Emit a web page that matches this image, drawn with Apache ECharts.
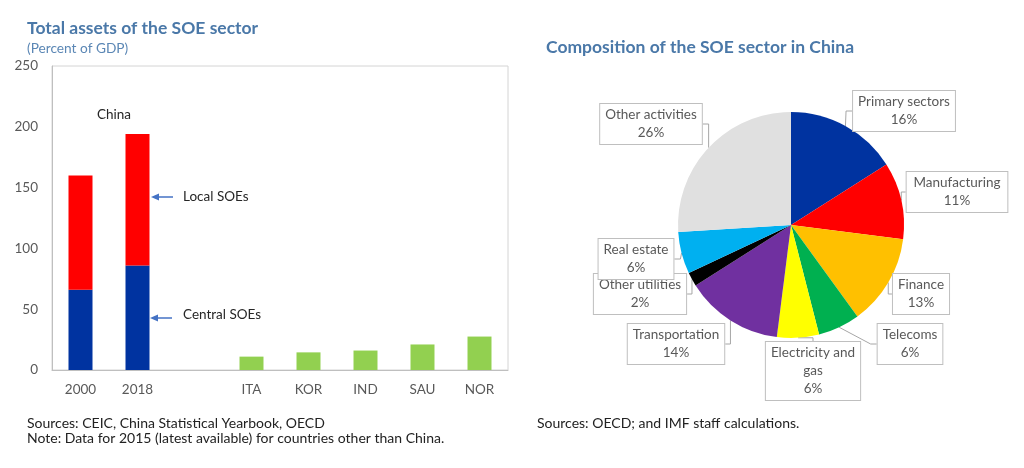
<!DOCTYPE html>
<html>
<head>
<meta charset="utf-8">
<script src="https://cdn.jsdelivr.net/npm/echarts@6/dist/echarts.min.js"></script>
<style>
html,body{margin:0;padding:0;background:#fff;}
#c{width:1024px;height:468px;}
</style>
</head>
<body>
<div id="c"></div>
<script>
// ---- Data ----
const categories = ['2000', '2018', '', 'ITA', 'KOR', 'IND', 'SAU', 'NOR'];
const centralSOEs = [66, 86, null, null, null, null, null, null];
const localSOEs = [94, 108, null, null, null, null, null, null];
const otherCountries = [null, null, null, 11, 14.5, 16, 21, 27.5];
const yMin = 0, yMax = 250, yInterval = 50;

const pieNames = ['Primary sectors', 'Manufacturing', 'Finance', 'Telecoms', 'Electricity and\ngas', 'Transportation', 'Other utilities', 'Real estate', 'Other activities'];
const pieValues = [16, 11, 13, 6, 6, 14, 2, 6, 26];
const pieColors = ['#0033A0', '#FF0000', '#FFC000', '#00B050', '#FFFF00', '#7030A0', '#000000', '#00B0F0', '#E0E0E0'];

// label box centres (layout only)
const pieLabelPos = [[904, 111], [957, 192], [921, 294], [910, 344], [813, 371], [676, 344], [640, 294], [636, 259], [651, 124]];

const FONT = 'Lato, "Open Sans", sans-serif';
const GREY = '#595959';

const chart = echarts.init(document.getElementById('c'), null, {renderer: 'canvas'});

const option = {
  animation: false,
  textStyle: {fontFamily: FONT},
  title: [
    {text: 'Total assets of the SOE sector', left: 27, top: 19, padding: 0,
     textStyle: {fontFamily: FONT, fontSize: 17.5, fontWeight: 'bold', color: '#4A78A8'}},
    {text: '(Percent of GDP)', left: 27, top: 42, padding: 0,
     textStyle: {fontFamily: FONT, fontSize: 13.7, fontWeight: 'normal', color: '#5B87B5'}},
    {text: 'Composition of the SOE sector in China', left: 546, top: 38, padding: 0,
     textStyle: {fontFamily: FONT, fontSize: 17.5, fontWeight: 'bold', color: '#4A78A8'}},
    {text: 'Sources: CEIC, China Statistical Yearbook, OECD\nNote: Data for 2015 (latest available) for countries other than China.',
     left: 27, top: 416, padding: 0,
     textStyle: {fontFamily: FONT, fontSize: 14, fontWeight: 'normal', color: '#222', lineHeight: 15}},
    {text: 'Sources: OECD; and IMF staff calculations.', left: 537, top: 416, padding: 0,
     textStyle: {fontFamily: FONT, fontSize: 14, fontWeight: 'normal', color: '#222', lineHeight: 15}}
  ],
  grid: {left: 52, top: 66, width: 456, height: 304, show: true, borderColor: '#D4D4D4', borderWidth: 1, backgroundColor: 'transparent'},
  xAxis: {
    type: 'category', data: categories,
    axisTick: {show: false},
    axisLine: {lineStyle: {color: '#BFBFBF'}},
    axisLabel: {color: GREY, fontSize: 13.5, margin: 13, fontFamily: FONT, interval: 0}
  },
  yAxis: {
    type: 'value', min: yMin, max: yMax, interval: yInterval,
    splitLine: {show: false},
    axisLine: {show: true, lineStyle: {color: '#BFBFBF'}},
    axisTick: {show: false},
    axisLabel: {color: GREY, fontSize: 13.5, margin: 14, fontFamily: FONT}
  },
  series: [
    {name: 'Central SOEs', type: 'bar', stack: 'total', data: centralSOEs, barWidth: 24,
     itemStyle: {color: '#0033A0'}},
    {name: 'Local SOEs', type: 'bar', stack: 'total', data: localSOEs, barWidth: 24,
     itemStyle: {color: '#FF0000'}},
    {name: 'Other countries', type: 'bar', stack: 'total', data: otherCountries, barWidth: 24,
     itemStyle: {color: '#92D050'}},
    {
      name: 'Composition', type: 'pie', center: [791, 225], radius: 113,
      startAngle: 90, clockwise: true,
      data: pieNames.map((n, i) => ({name: n, value: pieValues[i], itemStyle: {color: pieColors[i]}})),
      itemStyle: {borderWidth: 0},
      emphasis: {disabled: true},
      label: {
        show: true, position: 'outside',
        formatter: p => p.name + '\n' + p.value + '%',
        color: GREY, fontSize: 13.5, fontFamily: FONT, lineHeight: 18,
        align: 'center',
        backgroundColor: '#fff', borderColor: '#BFBFBF', borderWidth: 1,
        padding: [2, 5]
      },
      labelLine: {show: true, length: 6, length2: 6, lineStyle: {color: '#A6A6A6', width: 1}},
      labelLayout: function (params) {
        const p = pieLabelPos[params.dataIndex];
        return {x: p[0], y: p[1], align: 'center', verticalAlign: 'middle'};
      }
    }
  ],
  graphic: [
    {type: 'text', left: 97, top: 108, style: {text: 'China', fill: '#262626', font: '13.5px ' + FONT}},
    {type: 'text', left: 183, top: 190, style: {text: 'Local SOEs', fill: '#262626', font: '13.5px ' + FONT}},
    {type: 'text', left: 183, top: 308, style: {text: 'Central SOEs', fill: '#262626', font: '13.5px ' + FONT}},
    {type: 'line', shape: {x1: 158, y1: 197, x2: 173, y2: 197}, style: {stroke: '#4472C4', lineWidth: 1.5}},
    {type: 'polygon', shape: {points: [[151, 197], [159, 193.5], [159, 200.5]]}, style: {fill: '#4472C4'}},
    {type: 'line', shape: {x1: 157, y1: 318, x2: 172, y2: 318}, style: {stroke: '#4472C4', lineWidth: 1.5}},
    {type: 'polygon', shape: {points: [[150, 318], [158, 314.5], [158, 321.5]]}, style: {fill: '#4472C4'}}
  ]
};
chart.setOption(option);
</script>
</body>
</html>
